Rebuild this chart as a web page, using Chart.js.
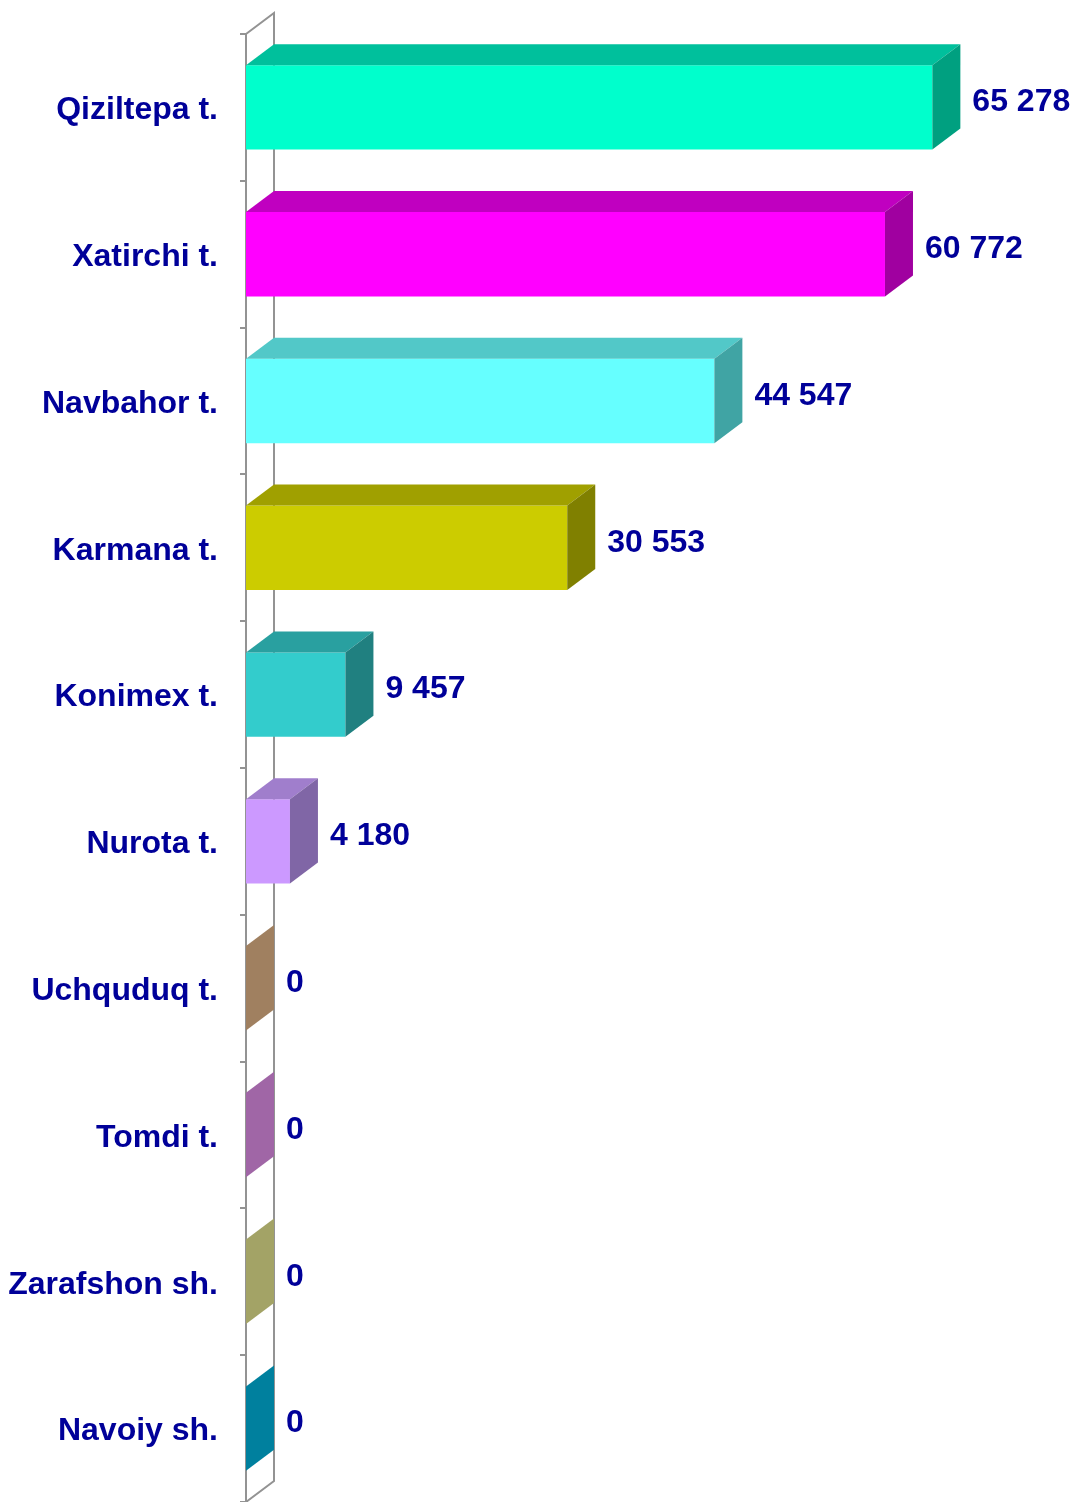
<!DOCTYPE html>
<html>
<head>
<meta charset="utf-8">
<script src="https://cdn.jsdelivr.net/npm/chart.js@4/dist/chart.umd.min.js"></script>
<style>
html,body{margin:0;padding:0;background:#fff;overflow:hidden;}
canvas{display:block;}
</style>
</head>
<body>
<canvas id="c" width="1076" height="1502"></canvas>
<script>
// ---- data ----
const categories = ["Qiziltepa t.", "Xatirchi t.", "Navbahor t.", "Karmana t.", "Konimex t.", "Nurota t.", "Uchquduq t.", "Tomdi t.", "Zarafshon sh.", "Navoiy sh."];
const values = [65278, 60772, 44547, 30553, 9457, 4180, 0, 0, 0, 0];
const axisMax = 70000;

// ---- styles ----
const frontColors = ["#00FFCC", "#FF00FF", "#66FFFF", "#CCCC00", "#33CCCC", "#CC99FF", "#C8A078", "#CC80D0", "#CCCC80", "#00A0C4"];
const topColors   = ["#00C09C", "#C000C0", "#52C8C8", "#A0A000", "#29A0A0", "#A07ECC", "#B08C68", "#B470B8", "#B4B470", "#0090B0"];
const sideColors  = ["#00A080", "#A000A0", "#40A4A4", "#808000", "#208080", "#8066A6", "#A08060", "#A066A6", "#A3A366", "#00809E"];
const DX = 28, DY = -21;
const wallColor = "#939393";
const textColor = "#000099";

function fmt(v){ return String(v).replace(/\B(?=(\d{3})+(?!\d))/g, " "); }

const wallPlugin = {
  id: "walls",
  beforeDatasetsDraw(chart){
    const {ctx, chartArea:a} = chart;
    ctx.save();
    ctx.strokeStyle = wallColor;
    ctx.lineWidth = 2;
    ctx.beginPath();
    ctx.moveTo(a.left, a.top);
    ctx.lineTo(a.left + DX, a.top + DY);
    ctx.lineTo(a.left + DX, a.bottom + DY);
    ctx.lineTo(a.left, a.bottom);
    ctx.stroke();
    ctx.restore();
  },
  afterDatasetsDraw(chart){
    const {ctx} = chart;
    const meta = chart.getDatasetMeta(0);
    ctx.save();
    meta.data.forEach((bar, i) => {
      const p = bar.getProps(["x","y","base","height"], true);
      const top = p.y - p.height/2, bot = p.y + p.height/2;
      const x0 = Math.min(p.base, p.x), x1 = Math.max(p.base, p.x);
      if (x1 - x0 > 0.5) {
        ctx.fillStyle = topColors[i];
        ctx.beginPath();
        ctx.moveTo(x0, top);
        ctx.lineTo(x1, top);
        ctx.lineTo(x1 + DX, top + DY);
        ctx.lineTo(x0 + DX, top + DY);
        ctx.closePath();
        ctx.fill();
      }
      ctx.fillStyle = sideColors[i];
      ctx.beginPath();
      ctx.moveTo(x1, top);
      ctx.lineTo(x1 + DX, top + DY);
      ctx.lineTo(x1 + DX, bot + DY);
      ctx.lineTo(x1, bot);
      ctx.closePath();
      ctx.fill();
      ctx.fillStyle = textColor;
      ctx.font = "bold 32px 'Liberation Sans', Arial, sans-serif";
      ctx.textAlign = "left";
      ctx.textBaseline = "middle";
      ctx.fillText(fmt(values[i]), x1 + DX + 12, p.y - 5);
    });
    ctx.restore();
  }
};

new Chart(document.getElementById("c"), {
  type: "bar",
  data: {
    labels: categories,
    datasets: [{
      data: values,
      backgroundColor: frontColors,
      borderWidth: 0,
      categoryPercentage: 1.0,
      barPercentage: 0.575
    }]
  },
  options: {
    indexAxis: "y",
    responsive: false,
    animation: false,
    layout: { padding: { top: 34, right: 94, left: 0, bottom: 0 } },
    plugins: { legend: { display: false }, tooltip: { enabled: false } },
    scales: {
      x: { display: false, min: 0, max: axisMax },
      y: {
        afterFit(scale){ scale.width = 246; scale.paddingTop = 0; scale.paddingBottom = 0; },
        grid: { drawOnChartArea: false, color: wallColor, lineWidth: 2, tickLength: 6, offset: true },
        border: { color: wallColor, width: 2 },
        ticks: {
          color: textColor,
          padding: 22,
          labelOffset: 3,
          font: { family: "'Liberation Sans', Arial, sans-serif", weight: "bold", size: 32 }
        }
      }
    }
  },
  plugins: [wallPlugin]
});
</script>
</body>
</html>
